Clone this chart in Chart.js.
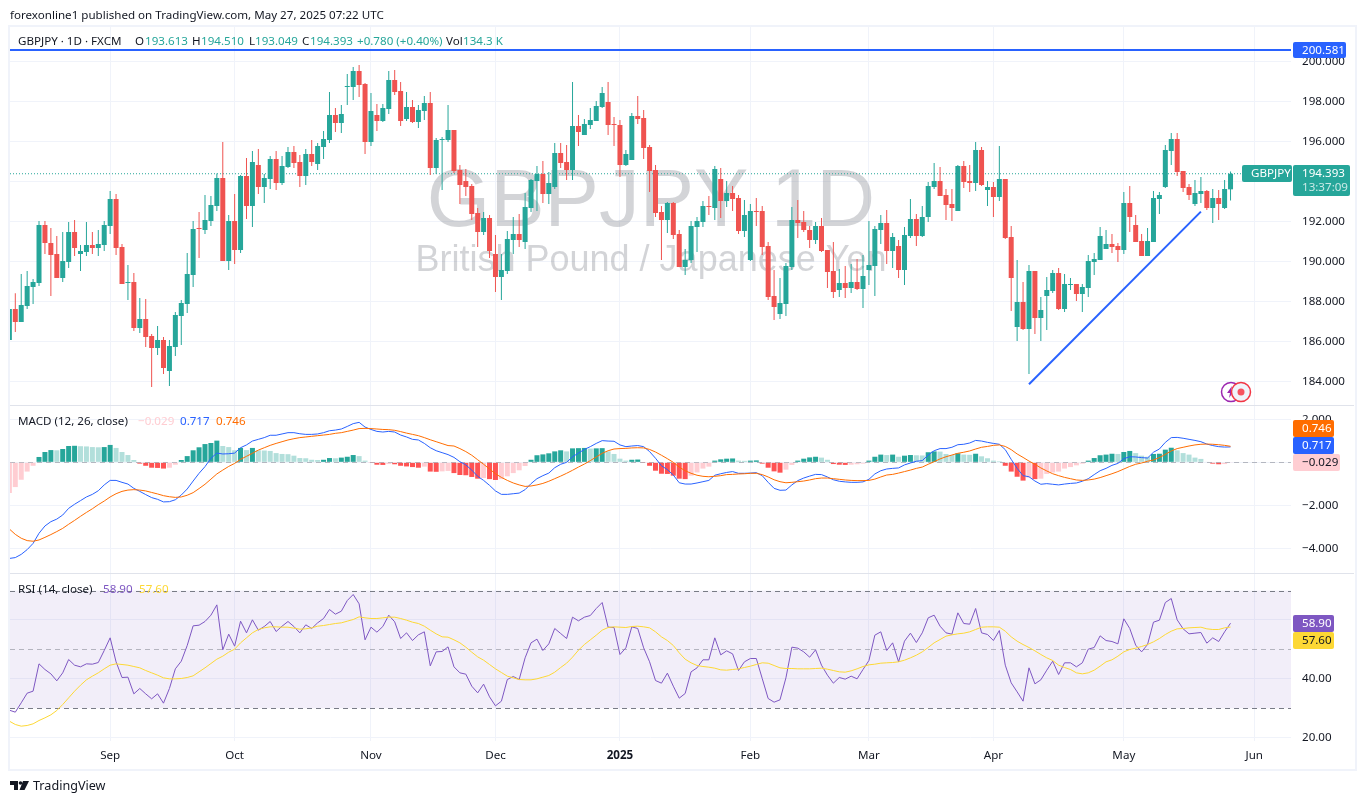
<!DOCTYPE html>
<html>
<head>
<meta charset="utf-8">
<title>GBPJPY 1D</title>
<script src="https://cdn.jsdelivr.net/npm/chart.js@4/dist/chart.umd.min.js"></script>
<style>
  html, body { margin: 0; padding: 0; background: #fff; overflow: hidden; }
  #wrap { position: relative; width: 1364px; height: 804px; }
  canvas { position: absolute; left: 0; top: 0; }
  .t { position: absolute; white-space: pre; font: 11.6px "Noto Sans", sans-serif; color: #131722; line-height: 14px; }
  .g { color: #26a69a; }
  #frame { position: absolute; left: 8px; top: 25px; width: 1345px; height: 742px; border: 2px solid #f0f3fa; pointer-events: none; }
</style>
</head>
<body>
<div id="wrap">
  <canvas id="chart" width="1364" height="804"></canvas>
  <div id="frame"></div>

  <div class="t" style="left:10px;top:8px">forexonline1 published on TradingView.com, May 27, 2025 07:22 UTC</div>

  <div class="t" style="left:18px;top:34px">GBPJPY · 1D · FXCM</div>
  <div class="t" style="left:135px;top:34px">O</div><div class="t g" style="left:145px;top:34px">193.613</div>
  <div class="t" style="left:192px;top:34px">H</div><div class="t g" style="left:201px;top:34px">194.510</div>
  <div class="t" style="left:249px;top:34px">L</div><div class="t g" style="left:255px;top:34px">193.049</div>
  <div class="t" style="left:302px;top:34px">C</div><div class="t g" style="left:310px;top:34px">194.393</div>
  <div class="t g" style="left:357px;top:34px">+0.780 (+0.40%)</div>
  <div class="t" style="left:446px;top:34px">Vol</div><div class="t g" style="left:463px;top:34px">134.3 K</div>

  <div class="t" style="left:18px;top:414px">MACD (12, 26, close)</div>
  <div class="t" style="left:138px;top:414px;color:#ffcdd2">−0.029</div>
  <div class="t" style="left:180px;top:414px;color:#2962ff">0.717</div>
  <div class="t" style="left:216px;top:414px;color:#ff6d00">0.746</div>

  <div class="t" style="left:18px;top:582px">RSI (14, close)</div>
  <div class="t" style="left:103px;top:582px;color:#7e57c2">58.90</div>
  <div class="t" style="left:139px;top:582px;color:#fdd835">57.60</div>

  <svg style="position:absolute;left:1219px;top:380px" width="36" height="24">
    <circle cx="12" cy="12" r="9.5" fill="#fff" stroke="#9c27b0" stroke-width="1.5"/>
    <path d="M13 6 L8 13 L11 13 L10 18 L15 11 L12 11 Z" fill="#9c27b0"/>
    <circle cx="22" cy="12" r="9.5" fill="#f0f3fa" stroke="#f23645" stroke-width="1.5"/>
    <circle cx="22" cy="12" r="3.5" fill="#f7525f"/>
  </svg>

  <svg style="position:absolute;left:10px;top:780px" width="20" height="12">
    <path d="M0 1 H8 V10 H4 V5 H0 Z M13 1 H19 L14.5 10 H9.5 Z" fill="#131722"/>
    <circle cx="10.5" cy="3" r="1.8" fill="#131722"/>
  </svg>
  <div class="t" style="left:33px;top:779px;font-size:12.6px">TradingView</div>
</div>

<script>
// Candles, index 0 = first visible daily bar
const opens = [186.08,187.63,186.98,187.78,188.73,188.93,191.83,190.93,190.38,189.18,
  189.98,191.48,190.38,190.48,190.83,190.68,190.83,191.78,193.13,190.73,
  188.93,188.98,186.68,187.13,186.28,185.68,186.08,184.53,185.73,187.28,
  187.88,189.33,191.68,191.58,192.03,192.78,194.18,190.03,192.03,190.58,
  194.28,192.78,194.83,193.73,194.13,195.13,193.93,194.73,195.48,194.98,
  194.28,195.38,194.88,195.73,196.08,197.33,196.93,198.73,198.73,199.53,
  198.88,195.98,197.33,197.03,197.63,199.08,198.53,197.13,197.73,196.98,
  197.53,197.93,194.68,196.08,196.08,196.58,194.58,194.03,193.78,192.43,
  191.48,192.18,190.38,189.23,189.53,191.08,191.38,190.98,192.68,194.03,
  194.38,193.38,193.73,195.43,194.98,194.58,196.78,196.33,196.83,197.03,
  197.73,197.98,196.88,196.83,194.83,195.08,197.28,197.18,195.73,194.58,
  192.48,192.08,192.93,191.38,189.73,190.08,191.73,191.98,192.78,192.68,
  194.13,193.03,193.43,193.18,191.53,190.08,192.53,192.53,190.78,188.28,
  187.38,187.88,189.73,192.08,191.98,191.58,191.08,191.78,190.58,189.53,
  188.58,188.93,188.68,188.98,188.63,189.58,189.78,191.58,191.93,190.53,
  190.78,189.58,191.28,192.13,191.28,192.23,193.73,194.03,193.33,192.88,
  192.53,194.78,194.03,193.93,195.58,193.58,193.73,193.23,194.13,191.23,
  186.73,187.98,186.63,189.53,187.18,188.28,188.53,189.43,187.63,188.83,
  188.88,188.38,188.68,189.98,190.08,190.63,190.88,190.78,190.58,192.93,
  191.83,191.03,190.28,190.98,193.13,193.73,195.53,196.13,194.53,193.73,
  192.88,193.38,193.53,192.68,193.18,192.68,193.613];
const closes = [187.63,186.98,187.83,188.78,188.98,191.83,190.93,190.33,189.18,190.03,
  191.48,190.68,190.53,190.83,190.68,190.88,191.83,193.13,190.68,188.88,
  188.98,186.68,187.13,186.23,185.68,186.08,184.68,185.78,187.33,187.93,
  189.38,191.63,191.63,192.08,192.83,194.18,190.03,192.03,190.58,194.28,
  192.78,194.98,193.73,194.18,195.13,193.93,194.78,195.48,194.93,194.28,
  195.38,194.98,195.78,196.13,197.33,196.93,197.38,198.78,199.53,198.83,
  195.98,197.53,197.03,197.68,199.08,198.48,197.03,197.73,196.98,197.58,
  197.93,194.68,196.08,196.13,196.58,194.53,193.83,193.73,192.38,191.48,
  192.18,190.53,189.23,189.58,191.13,191.38,191.08,192.73,194.08,194.38,
  193.38,193.93,195.43,194.93,194.58,196.78,196.48,196.88,197.08,197.78,
  198.43,196.83,196.83,194.83,195.38,197.28,197.13,195.68,194.53,192.43,
  192.08,192.93,191.33,189.73,190.08,191.78,192.03,192.78,192.73,194.63,
  193.03,193.43,193.13,191.53,192.33,192.53,192.48,190.73,188.23,187.73,
  187.93,189.78,192.08,191.93,191.58,191.08,191.78,190.53,189.48,188.48,
  188.93,188.68,188.98,188.63,189.28,189.83,191.63,191.93,190.53,191.23,
  189.58,191.33,192.13,191.28,192.23,193.78,194.03,193.28,192.83,192.68,
  194.78,193.98,193.93,195.58,193.83,193.73,193.23,194.13,191.18,189.18,
  187.98,186.63,189.53,187.18,187.58,188.58,189.43,187.63,188.88,188.88,
  188.38,188.73,190.03,190.13,191.28,190.88,190.73,190.58,192.93,192.23,
  190.98,190.28,191.03,193.18,193.33,195.58,196.13,194.48,193.68,193.33,
  193.43,193.53,192.68,193.18,192.88,193.63,194.393];
const highs = [187.63,188.42,189.38,189.53,189.13,192.03,192.03,191.68,191.28,191.48,
  191.98,192.08,190.83,191.98,191.48,191.58,192.03,193.53,193.38,190.88,
  189.83,189.43,188.18,188.13,186.38,186.78,186.23,186.08,187.48,188.08,
  190.43,192.03,192.48,193.33,193.28,194.41,195.98,192.33,193.38,194.33,
  195.18,195.53,195.63,194.38,195.28,195.53,195.28,195.73,195.78,195.33,
  195.63,196.08,195.93,196.53,198.48,197.68,197.83,199.38,199.73,199.83,
  198.93,198.43,197.88,197.88,199.53,199.58,198.98,198.48,198.08,197.83,
  198.28,198.48,196.18,196.23,197.83,196.58,194.83,194.63,193.88,192.68,
  192.48,192.33,191.33,190.38,191.53,192.23,192.38,193.43,194.13,194.78,
  195.03,194.48,195.93,195.93,195.83,198.98,197.33,197.13,197.68,198.03,
  198.73,198.98,197.23,197.08,195.58,197.43,198.28,197.58,195.83,194.83,
  192.78,192.98,192.98,191.58,190.63,192.03,192.23,193.03,193.28,194.78,
  194.68,194.03,193.78,193.33,193.08,192.88,193.18,192.78,190.98,189.58,
  189.18,189.93,192.73,193.08,192.53,191.78,191.98,192.18,190.58,190.98,
  189.63,189.78,189.88,190.13,190.33,192.03,191.78,192.33,192.58,191.43,
  191.08,191.73,193.13,192.38,192.78,193.98,194.93,194.73,193.63,193.63,
  194.83,195.03,194.83,195.98,195.73,194.03,193.98,195.78,194.13,191.78,
  190.08,188.98,189.83,189.53,188.23,189.23,189.58,189.68,189.38,189.18,
  188.88,188.88,190.33,190.43,191.73,191.58,191.38,190.93,193.48,193.78,
  192.33,191.38,191.68,193.53,193.48,195.83,196.43,196.43,194.53,193.88,
  194.08,194.23,193.58,193.63,193.58,194.08,194.51];
const lows = [186.08,186.48,186.98,187.63,187.88,188.78,190.38,188.28,189.18,188.98,
  189.68,190.28,189.53,190.28,190.38,190.28,190.53,191.38,190.33,188.88,
  188.08,186.53,186.43,185.73,183.73,185.33,184.38,183.78,185.28,185.83,
  187.43,188.73,190.18,191.38,191.78,192.53,190.03,189.58,189.88,190.43,
  192.13,191.73,193.38,192.93,193.63,193.58,193.83,194.68,194.68,193.73,
  193.83,194.78,194.58,195.13,195.93,196.48,196.43,197.83,198.08,198.23,
  195.38,195.78,196.53,196.98,197.38,198.33,196.78,197.03,196.93,196.68,
  197.08,194.33,194.38,193.58,195.98,194.43,192.88,193.28,192.08,190.73,
  191.33,190.18,188.48,188.08,189.38,190.38,190.73,190.63,192.48,192.53,
  192.93,192.88,193.63,194.68,194.08,194.08,195.78,196.33,196.63,197.03,
  197.68,196.33,195.78,194.23,194.78,195.08,196.88,195.13,193.48,192.23,
  190.08,191.43,191.13,189.73,189.33,189.93,190.48,191.73,192.33,192.08,
  192.18,192.73,192.53,191.38,191.23,190.03,191.78,190.33,188.08,187.08,
  187.13,187.28,189.58,191.18,191.48,190.68,190.88,190.48,188.68,188.18,
  188.23,188.18,188.43,188.58,187.68,188.83,188.28,190.88,189.88,189.68,
  189.18,188.83,191.18,190.78,191.23,191.98,193.63,193.28,192.08,192.03,
  192.53,193.68,193.48,193.53,193.78,192.78,192.23,193.03,191.13,187.53,
  186.03,186.58,184.38,186.38,186.03,186.58,188.43,187.58,187.48,188.58,
  188.03,187.48,188.23,189.33,190.08,190.63,190.43,189.98,190.38,191.48,
  190.98,190.28,190.28,190.98,192.38,193.68,194.83,194.28,193.48,193.08,
  192.78,192.93,192.58,191.93,192.08,192.63,193.049];

// MACD (12, 26, close)
const macdHist = [-1.43,-1.15,-.81,-.43,-.16,.25,.48,.57,.56,.62,.76,.77,.75,.74,.71,.70,.71,.81,.67,.48,
  .34,.11,-.06,-.16,-.25,-.26,-.29,-.25,-.11,.11,.29,.56,.70,.85,.90,1.01,.76,.71,.56,.67,
  .57,.67,.56,.55,.53,.43,.39,.38,.31,.20,.19,.12,.11,.12,.20,.19,.22,.26,.34,.29,
  .08,-.03,-.11,-.12,-.08,-.09,-.16,-.19,-.22,-.25,-.20,-.43,-.44,-.42,-.40,
  -.50,-.59,-.60,-.68,-.76,-.73,-.78,-.82,-.78,-.65,-.50,-.37,-.17,.12,.33,.37,.42,.51,.56,.51,
  .65,.66,.67,.64,.65,.66,.51,.39,.17,.08,.12,.13,-.03,-.16,-.39,-.53,-.54,-.62,-.76,-.78,
  -.62,-.47,-.29,-.20,.08,.14,.17,.18,.08,.07,.08,.09,-.06,-.25,-.42,-.48,-.34,-.12,.08,.17,
  .23,.26,.22,.12,-.08,-.11,-.12,-.11,-.09,-.06,.08,.26,.36,.34,.36,.26,.31,.34,.33,.32,
  .47,.51,.50,.39,.34,.42,.36,.35,.40,.28,.19,.08,.05,-.16,-.43,-.67,-.85,-.71,-.78,-.76,
  -.54,-.47,-.43,-.29,-.22,-.14,-.06,.08,.20,.33,.36,.40,.39,.48,.53,.43,.31,.26,.39,.40,
  .59,.68,.56,.43,.36,.22,.16,.02,-.06,-.09,-.08,-.03];
const macdLine = [-4.47,-4.43,-4.28,-4.06,-3.77,-3.30,-2.96,-2.76,-2.64,-2.45,-2.14,-1.95,-1.78,-1.61,-1.49,-1.32,-1.05,-.84,-.84,-.93,
  -1.01,-1.21,-1.35,-1.50,-1.64,-1.72,-1.84,-1.83,-1.74,-1.52,-1.24,-.87,-.51,-.20,.19,.43,.39,.40,.43,.68,
  .81,.99,1.07,1.15,1.26,1.26,1.32,1.38,1.38,1.33,1.30,1.30,1.32,1.38,1.47,1.50,1.55,1.67,1.80,1.86,
  1.64,1.53,1.44,1.41,1.44,1.41,1.27,1.18,1.07,1.04,.88,.68,.54,.45,.36,
  .23,.03,-.12,-.36,-.65,-.84,-1.07,-1.33,-1.49,-1.49,-1.46,-1.43,-1.27,-.99,-.76,-.62,-.50,-.25,-.09,0,
  .26,.43,.60,.73,.88,1.01,.99,.98,.81,.73,.76,.78,.73,.50,.19,-.16,-.34,-.59,-.95,-1.01,
  -1.01,-.96,-.90,-.84,-.60,-.53,-.47,-.43,-.51,-.51,-.50,-.48,-.62,-.93,-1.21,-1.30,-1.29,-1.05,-.85,-.73,
  -.64,-.56,-.57,-.68,-.81,-.88,-.91,-.93,-.93,-.91,-.79,-.54,-.39,-.31,
  -.28,-.26,-.12,-.03,.05,.08,.34,.54,.64,.64,.70,.82,.84,.90,1.02,.99,.93,.88,.84,.59,
  .14,-.28,-.62,-.67,-.87,-1.02,-.99,-1.02,-1.05,-1.01,-.98,-.96,-.88,-.76,-.57,-.39,-.28,-.14,-.05,.17,
  .26,.25,.22,.20,.47,.62,.93,1.15,1.16,1.12,1.07,1.02,.96,.85,.78,.73,.71,.717];
const macdSignal = [-3.10,-3.35,-3.53,-3.64,-3.67,-3.61,-3.49,-3.36,-3.22,-3.07,-2.88,-2.70,-2.51,-2.33,-2.16,-1.97,-1.80,-1.61,-1.46,-1.35,
  -1.29,-1.27,-1.29,-1.33,-1.40,-1.47,-1.55,-1.60,-1.63,-1.61,-1.53,-1.41,-1.22,-1.02,-.78,-.54,-.36,-.19,-.05,.14,
  .28,.42,.57,.68,.79,.88,.96,1.04,1.10,1.15,1.18,1.21,1.24,1.27,1.30,1.35,1.38,1.44,1.50,1.57,
  1.58,1.57,1.55,1.53,1.52,1.49,1.43,1.36,1.30,1.24,1.15,1.05,.96,.87,.78,
  .76,.64,.50,.33,.12,-.09,-.31,-.53,-.70,-.84,-.96,-1.05,-1.12,-1.10,-1.05,-.98,-.88,-.76,-.64,-.51,
  -.37,-.22,-.08,.08,.25,.42,.54,.62,.64,.65,.67,.68,.67,.60,.48,.33,.17,0,-.22,-.39,
  -.51,-.60,-.65,-.67,-.65,-.62,-.57,-.56,-.54,-.53,-.51,-.51,-.57,-.68,-.81,-.90,-.95,-.93,-.90,-.87,
  -.82,-.76,-.73,-.73,-.76,-.79,-.82,-.84,-.85,-.85,-.84,-.78,-.68,-.59,
  -.56,-.50,-.43,-.36,-.28,-.22,-.09,.03,.16,.26,.34,.42,.47,.53,.62,.70,.74,.79,.81,.74,
  .59,.39,.23,.06,-.09,-.26,-.40,-.53,-.62,-.70,-.76,-.82,-.84,-.82,-.78,-.71,-.62,-.53,-.43,-.31,
  -.19,-.09,-.03,.05,.11,.22,.37,.53,.64,.70,.76,.81,.84,.85,.84,.82,.79,.746];

// RSI (14, close) and its moving average
const rsiLine = [29.35,28.68,31.85,35.13,35.81,45.10,43.17,41.70,39.32,42.04,46.57,44.64,44.08,45.10,44.98,45.55,49.63,53.93,45.78,40.45,
  40.57,34.90,36.72,34.90,33.21,34.90,31.73,36.72,43.40,46.00,51.33,58.01,58.23,59.48,61.63,65.14,49.85,55.18,51.10,59.59,
  55.63,60.05,56.53,57.78,59.48,56.08,57.89,59.48,57.78,55.63,58.35,57.10,59.03,60.50,63.56,61.97,62.99,66.61,68.65,65.48,
  53.25,57.55,55.86,57.78,61.63,59.37,53.70,55.63,53.02,54.95,55.97,44.42,49.17,49.29,50.87,
  44.08,42.04,41.59,37.51,35.24,38.19,33.88,30.83,32.41,39.77,40.79,39.77,47.13,52.23,53.48,49.63,51.89,57.10,55.40,53.70,
  60.95,59.71,60.95,61.52,63.90,65.93,57.55,57.44,48.27,50.53,57.67,57.10,50.53,45.78,39.43,38.53,41.93,37.51,33.43,35.02,
  42.38,43.74,46.46,46.46,53.93,48.15,49.51,48.49,42.83,45.78,46.91,46.91,40.11,33.32,32.07,32.87,40.34,50.76,50.42,49.17,
  47.36,49.85,44.64,41.25,38.53,40.45,39.89,40.91,40.00,43.17,46.23,54.84,55.97,49.63,
  52.23,45.78,52.80,55.52,52.34,55.63,60.72,61.63,57.89,55.63,55.18,62.42,58.80,58.57,63.90,55.63,55.06,53.02,56.42,44.64,
  38.64,35.58,32.41,43.74,38.30,39.66,42.94,46.00,41.47,45.44,45.44,44.08,45.44,50.08,50.65,54.61,53.02,52.68,51.89,60.39,
  57.10,51.44,49.17,51.66,59.25,59.93,65.93,67.29,60.05,56.99,55.29,55.52,55.74,52.12,53.93,52.68,55.97,58.90];
const rsiAverage = [25.62,24.49,23.92,24.15,24.71,25.84,26.75,27.77,29.24,31.28,33.54,35.81,37.85,39.66,40.91,42.04,43.40,44.64,45.10,44.87,
  44.64,44.19,43.74,42.83,42.04,41.25,40.34,40.00,40.00,40.11,40.45,41.02,42.38,43.74,45.21,46.68,47.70,49.06,50.08,52.23,
  53.93,55.63,56.76,57.33,57.67,57.67,57.55,57.55,57.21,56.87,56.99,57.33,57.89,58.12,58.46,58.80,59.03,59.59,60.16,61.06,
  60.72,60.50,60.50,60.72,60.95,60.95,60.50,59.93,59.25,58.80,57.89,56.53,55.29,54.27,54.16,
  53.25,52.23,50.76,49.06,47.47,46.34,44.87,43.40,42.15,40.91,40.34,39.77,39.66,39.66,40.00,40.57,41.13,42.26,43.85,45.32,
  47.36,49.74,51.66,53.25,54.84,56.53,57.44,57.67,57.55,57.44,57.78,57.89,57.67,57.33,55.97,54.27,53.02,51.33,48.83,46.68,
  45.44,44.53,44.19,43.96,43.62,43.06,42.94,43.17,43.40,43.85,44.30,44.87,45.44,45.32,44.53,43.74,43.51,43.51,43.40,43.40,
  43.40,43.51,43.62,43.28,42.83,42.38,42.26,42.72,43.40,44.19,44.76,44.98,45.32,45.44,
  45.55,45.78,46.34,47.13,48.04,49.17,50.65,52.23,53.36,54.50,54.95,55.29,55.52,55.97,56.76,57.55,57.67,57.67,57.55,56.19,
  54.27,52.80,51.66,50.65,49.51,48.27,47.13,46.23,44.64,43.85,43.17,42.04,41.70,42.04,42.94,44.30,45.78,46.46,47.70,49.17,
  49.97,50.42,50.99,51.66,52.57,53.70,55.06,56.19,56.99,57.10,57.33,57.44,57.55,56.99,56.76,56.76,57.33,57.60];

// Axis ticks
const priceTicks = [184, 186, 188, 190, 192, 194, 196, 198, 200];
const macdTicks = [2, 0, -2, -4];
const rsiTicks = [20, 40, 60];
const monthBars = [17, 38, 61, 82, 103, 125, 145, 166, 188, 210];
const monthLabels = ['Sep', 'Oct', 'Nov', 'Dec', '2025', 'Feb', 'Mar', 'Apr', 'May', 'Jun'];

// Drawn levels and the hand drawn trend line
const resistanceLevel = 200.581;
const lastPrice = 194.393;
const trendBars = [172, 201];
const trendPrices = [183.87, 192.5];

const UP = '#26a69a', DOWN = '#ef5350', BLUE = '#2962ff', ORANGE = '#ff6d00', PURPLE = '#7e57c2', YELLOW = '#fdd835';
const XMIN = 0.106, XMAX = 216.2;
const FONT = '"Noto Sans", sans-serif';
const FONT_SIZE = 11.6;

function bars(values) {
    return values.map(function (v, i) { return { x: i, y: v }; });
}
function histColor(ctx) {
    const i = ctx.dataIndex, v = macdHist[i], prev = i > 0 ? macdHist[i - 1] : v;
    if (v >= 0) return v >= prev ? '#26a69a' : '#b2dfdb';
    return v < prev ? '#ff5252' : '#ffcdd2';
}
function candleColor(ctx) {
    return closes[ctx.dataIndex] >= opens[ctx.dataIndex] ? UP : DOWN;
}
function lineSet(values, color, axis, order) {
    return { type: 'line', data: bars(values), yAxisID: axis, borderColor: color, borderWidth: 1, pointRadius: 0, tension: 0, order: order };
}
function levelSet(xs, ys, color, width, dash, order) {
    return {
        type: 'line', yAxisID: 'price', borderColor: color, borderWidth: width, borderDash: dash, pointRadius: 0, order: order,
        data: xs.map(function (x, i) { return { x: x, y: ys[i] }; })
    };
}

function badge(ctx, x, y, w, h, bg, fg, text) {
    ctx.fillStyle = bg;
    ctx.beginPath();
    ctx.roundRect(x, y, w, h, 2);
    ctx.fill();
    ctx.fillStyle = fg;
    ctx.textAlign = 'left';
    ctx.textBaseline = 'middle';
    ctx.font = FONT_SIZE + 'px ' + FONT;
    ctx.fillText(text, x + 9, y + h / 2 + 0.5);
}

const panePlugin = {
    id: 'panes',
    beforeDatasetsDraw: function (chart) {
        const ctx = chart.ctx, x = chart.scales.x, p = chart.scales.price, m = chart.scales.macd, r = chart.scales.rsi;
        ctx.save();
        // watermark
        ctx.fillStyle = 'rgba(120,123,134,0.33)';
        ctx.textAlign = 'center';
        ctx.textBaseline = 'alphabetic';
        ctx.font = '81.5px "Liberation Sans", sans-serif';
        ctx.fillText('GBPJPY 1D', 651, 226);
        ctx.font = '36px "Liberation Sans", sans-serif';
        ctx.fillText('British Pound / Japanese Yen', 651, 271);

        // RSI band and levels
        ctx.fillStyle = 'rgba(126,87,194,0.1)';
        ctx.fillRect(x.left, r.getPixelForValue(70), x.right - x.left, r.getPixelForValue(30) - r.getPixelForValue(70));
        ctx.lineWidth = 1;
        ctx.setLineDash([5, 4]);
        [[70, '#787b86'], [50, 'rgba(120,123,134,0.5)'], [30, '#787b86']].forEach(function (l) {
            const y = Math.round(r.getPixelForValue(l[0])) + 0.5;
            ctx.strokeStyle = l[1];
            ctx.beginPath();
            ctx.moveTo(x.left, y);
            ctx.lineTo(x.right, y);
            ctx.stroke();
        });

        // MACD zero line
        const zero = Math.round(m.getPixelForValue(0)) + 0.5;
        ctx.strokeStyle = 'rgba(120,123,134,0.5)';
        ctx.beginPath();
        ctx.moveTo(x.left, zero);
        ctx.lineTo(x.right, zero);
        ctx.stroke();
        ctx.setLineDash([]);

        // pane separators
        ctx.strokeStyle = '#e0e3eb';
        [p.bottom, m.bottom].forEach(function (b) {
            ctx.beginPath();
            ctx.moveTo(x.left, Math.round(b) + 0.5);
            ctx.lineTo(1354, Math.round(b) + 0.5);
            ctx.stroke();
        });
        ctx.restore();
    },
    afterDraw: function (chart) {
        const ctx = chart.ctx;
        ctx.save();
        badge(ctx, 1293, 42, 53, 16, BLUE, '#fff', '200.581');
        badge(ctx, 1242, 165, 50, 17, UP, '#fff', 'GBPJPY');
        ctx.fillStyle = UP;
        ctx.beginPath();
        ctx.roundRect(1293, 165, 57, 31, 2);
        ctx.fill();
        ctx.fillStyle = '#fff';
        ctx.font = FONT_SIZE + 'px ' + FONT;
        ctx.textAlign = 'left';
        ctx.textBaseline = 'middle';
        ctx.fillText('194.393', 1302, 173.5);
        ctx.fillStyle = 'rgba(255,255,255,0.75)';
        ctx.fillText('13:37:09', 1302, 187.5);

        badge(ctx, 1293, 420, 41, 17, ORANGE, '#fff', '0.746');
        badge(ctx, 1293, 437, 41, 17, BLUE, '#fff', '0.717');
        badge(ctx, 1293, 454, 47, 17, '#ffcdd2', '#131722', '−0.029');
        badge(ctx, 1293, 615, 41, 17, PURPLE, '#fff', '58.90');
        badge(ctx, 1293, 632, 41, 17, YELLOW, '#131722', '57.60');
        ctx.restore();
    }
};

function paneAxis(min, max, weight, ticks, format) {
    return {
        type: 'linear', position: 'right', stack: 'panes', stackWeight: weight, min: min, max: max,
        border: { display: false },
        grid: { color: '#f0f3fa', drawTicks: false },
        afterBuildTicks: function (scale) { scale.ticks = ticks.map(function (v) { return { value: v }; }); },
        afterFit: function (scale) { scale.width = 63; },
        ticks: { padding: 11, color: '#131722', font: { family: FONT, size: FONT_SIZE }, callback: format }
    };
}

new Chart(document.getElementById('chart').getContext('2d'), {
    type: 'bar',
    plugins: [panePlugin],
    data: {
        datasets: [
            // main pane
            levelSet([XMIN, XMAX], [resistanceLevel, resistanceLevel], BLUE, 2, [], 1),
            levelSet(trendBars, trendPrices, BLUE, 2, [], 1),
            {
                label: 'Body', yAxisID: 'price', grouped: false, barThickness: 5, borderWidth: 0, inflateAmount: 0, order: 2,
                data: opens.map(function (o, i) { return { x: i, y: [o, closes[i]] }; }), backgroundColor: candleColor
            },
            {
                label: 'Wick', yAxisID: 'price', grouped: false, barThickness: 1, borderWidth: 0, inflateAmount: 0, order: 3,
                data: lows.map(function (l, i) { return { x: i, y: [l, highs[i]] }; }), backgroundColor: candleColor
            },
            levelSet([XMIN, XMAX], [lastPrice, lastPrice], UP, 1, [1, 2], 4),
            // MACD pane
            lineSet(macdSignal, ORANGE, 'macd', 1),
            lineSet(macdLine, BLUE, 'macd', 2),
            {
                label: 'Histogram', yAxisID: 'macd', grouped: false, barThickness: 5, borderWidth: 0, inflateAmount: 0, order: 3,
                data: bars(macdHist), backgroundColor: histColor
            },
            // RSI pane
            lineSet(rsiAverage, YELLOW, 'rsi', 1),
            lineSet(rsiLine, PURPLE, 'rsi', 2)
        ]
    },
    options: {
        responsive: false,
        animation: false,
        layout: { padding: { left: 10, right: 10, top: 27, bottom: 36 } },
        plugins: { legend: { display: false }, tooltip: { enabled: false } },
        scales: {
            x: {
                type: 'linear', min: XMIN, max: XMAX, offset: false,
                border: { display: false },
                grid: { color: '#f0f3fa', drawTicks: false, offset: false },
                afterBuildTicks: function (scale) { scale.ticks = monthBars.map(function (v) { return { value: v }; }); },
                afterFit: function (scale) { scale.height = 27.5; },
                ticks: {
                    padding: 8, autoSkip: false, maxRotation: 0, color: '#131722',
                    font: function (c) { return { family: FONT, size: FONT_SIZE, weight: c.tick && c.tick.value === 103 ? 'bold' : 'normal' }; },
                    callback: function (v) { return monthLabels[monthBars.indexOf(v)]; }
                }
            },
            price: paneAxis(182.83, 201.73, 378, priceTicks, function (v) { return v.toFixed(3); }),
            macd: paneAxis(-5.147, 2.667, 168, macdTicks, function (v) { return v.toFixed(3).replace('-', '−'); }),
            rsi: paneAxis(19.05, 75.96, 167.5, rsiTicks, function (v) { return v.toFixed(2); })
        }
    }
});
</script>
</body>
</html>
